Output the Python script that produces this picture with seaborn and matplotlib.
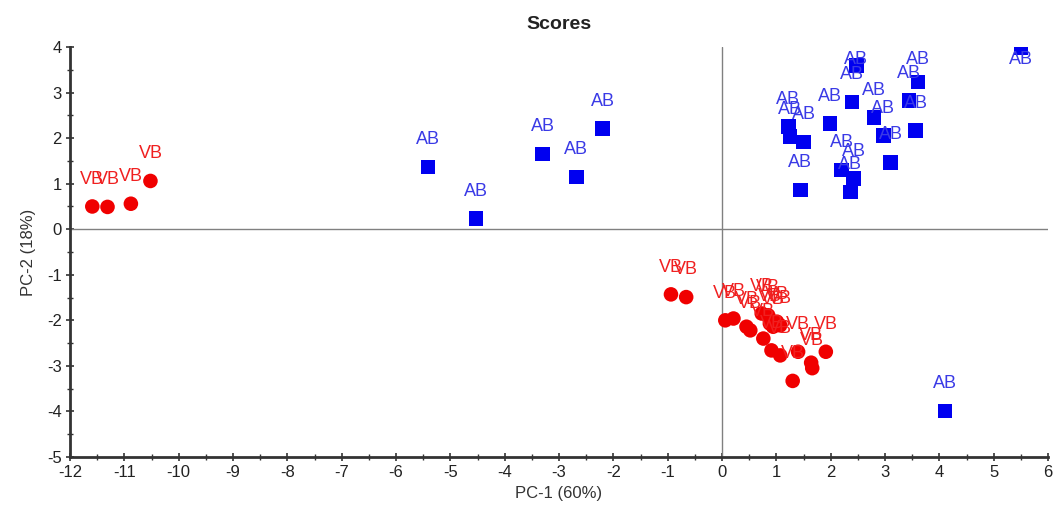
import matplotlib
matplotlib.use("Agg")
import matplotlib.pyplot as plt
import seaborn as sns
import pandas as pd
from matplotlib.ticker import MultipleLocator

# ---- data ----
ab_x = [5.50, 2.47, 3.61, 2.39, 3.44, 1.99, 1.22, 1.25, 1.50, 2.80, 3.56, 2.97,
        3.10, 2.20, 2.42, 2.36, 1.44,
        -5.41, -4.53, -3.30, -2.68, -2.20, 4.10]
ab_y = [3.99, 3.60, 3.23, 2.79, 2.83, 2.32, 2.25, 2.03, 1.92, 2.45, 2.17, 2.06,
        1.47, 1.30, 1.11, 0.82, 0.86,
        1.37, 0.23, 1.65, 1.15, 2.21, -3.99]
vb_x = [-10.52, -11.59, -11.31, -10.88,
        -0.94, -0.66, 0.06, 0.21, 0.45, 0.52, 0.76, 0.91, 1.07, 1.40, 1.64, 1.66,
        1.91, 1.30, 0.73, 0.85, 0.88, 1.01, 1.07, 0.94]
vb_y = [1.06, 0.50, 0.49, 0.56,
        -1.43, -1.49, -2.00, -1.96, -2.14, -2.22, -2.40, -2.66, -2.77, -2.69, -2.93, -3.05,
        -2.69, -3.33, -1.85, -1.89, -2.07, -2.03, -2.11, -2.14]

groups = ["AB", "VB"]
x_ticks = list(range(-12, 7))
y_ticks = list(range(-5, 5))
title = "Scores"
x_label = "PC-1 (60%)"
y_label = "PC-2 (18%)"

df = pd.DataFrame({
    "x": ab_x + vb_x,
    "y": ab_y + vb_y,
    "g": ["AB"] * len(ab_x) + ["VB"] * len(vb_x),
})

sns.set_style("white")
plt.rcParams["font.family"] = ["Liberation Sans", "DejaVu Sans"]
plt.rcParams["axes.unicode_minus"] = False

fig = plt.figure(figsize=(10.53, 5.17), dpi=100)
ax = fig.add_axes([0.0665, 0.1161, 0.9288, 0.7929])

mark_col = {"AB": "#0000f0", "VB": "#f00000"}
text_col = {"AB": "#3a3ae6", "VB": "#f02020"}

ax.axhline(0, color="#808080", lw=1.0, zorder=1)
ax.axvline(0, color="#808080", lw=1.0, zorder=1)

sns.scatterplot(data=df, x="x", y="y", hue="g", style="g",
                palette=mark_col, markers={"AB": "s", "VB": "o"},
                s=110, linewidth=0, legend=False, ax=ax, zorder=3)

for xv, yv, g in zip(df["x"], df["y"], df["g"]):
    ax.text(xv, min(yv + 0.6, 3.73), g, ha="center", va="center",
            fontsize=13, color=text_col[g], zorder=4)

ax.set_xlim(-12, 6)
ax.set_ylim(-5, 4)
ax.set_xticks(x_ticks)
ax.set_yticks(y_ticks)
ax.xaxis.set_minor_locator(MultipleLocator(0.5))
ax.yaxis.set_minor_locator(MultipleLocator(0.5))
ax.tick_params(which="major", direction="inout", length=6, width=1.2,
               color="#333333", labelsize=12, labelcolor="#222222", pad=3,
               left=True, bottom=True)
ax.tick_params(which="minor", direction="inout", length=4, width=1.0,
               color="#333333", left=True, bottom=True)

for side in ["top", "right"]:
    ax.spines[side].set_visible(False)
for side in ["left", "bottom"]:
    ax.spines[side].set_color("#333333")
    ax.spines[side].set_linewidth(2.0)

ax.set_title(title, fontsize=14, fontweight="bold", color="#222222", pad=13)
ax.set_xlabel(x_label, fontsize=12, color="#333333", labelpad=4)
ax.set_ylabel(y_label, fontsize=12, color="#333333", labelpad=8)

fig.savefig("out.png", dpi=100)
